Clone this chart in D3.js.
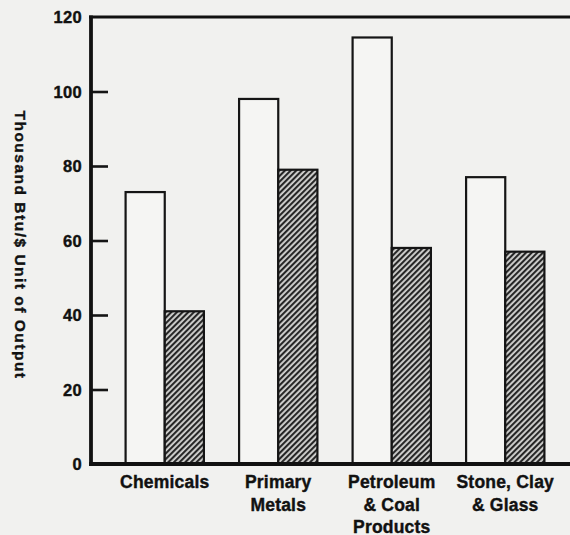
<!DOCTYPE html>
<html>
<head>
<meta charset="utf-8">
<script src="https://cdn.jsdelivr.net/npm/d3@7"></script>
<style>
  html, body { margin: 0; padding: 0; background: #f1f1ef; }
  svg { display: block; }
  text { font-family: "Liberation Sans", Arial, Helvetica, sans-serif; font-weight: bold; fill: #111; }
</style>
</head>
<body>
<div id="chart"></div>
<script>
// ---- data ----
const categories = ["Chemicals", "Primary Metals", "Petroleum & Coal Products", "Stone, Clay & Glass"];
const categoryLines = [["Chemicals"], ["Primary", "Metals"], ["Petroleum", "& Coal", "Products"], ["Stone, Clay", "& Glass"]];
const series = ["open", "hatched"];
const openValues = [73, 98, 114.5, 77];
const hatchedValues = [41, 79, 58, 57];
const yTicks = [0, 20, 40, 60, 80, 100, 120];
const yTitle = "Thousand Btu/$ Unit of Output";

(function () {
const W = 570, H = 535;
const svg = d3.select("#chart").append("svg").attr("width", W).attr("height", H);

svg.append("rect").attr("width", W).attr("height", H).attr("fill", "#f1f1ef");

const defs = svg.append("defs");
const pat = defs.append("pattern")
  .attr("id", "hatch").attr("patternUnits", "userSpaceOnUse")
  .attr("width", 4).attr("height", 4)
  .attr("patternTransform", "rotate(45)");
pat.append("rect").attr("width", 4).attr("height", 4).attr("fill", "#d2d2d0");
pat.append("rect").attr("x", 0).attr("y", 0).attr("width", 2.1).attr("height", 4).attr("fill", "#262626");

const mLeft = 91, mRight = 570, mTop = 17, mBottom = 464;

const y = d3.scaleLinear().domain([0, 120]).range([mBottom, mTop]);
const x0 = d3.scaleBand().domain(categories).range([108, 562]).paddingInner(0.31).paddingOuter(0.155);
const x1 = d3.scaleBand().domain(series).range([0, x0.bandwidth()]).padding(0);

const rows = categories.map((c, i) => ({ cat: c, vals: [
  { s: "open", v: openValues[i] },
  { s: "hatched", v: hatchedValues[i] }
]}));

// bars
const g = svg.append("g");
g.selectAll("g.cat").data(rows).join("g")
  .attr("class", "cat")
  .attr("transform", d => `translate(${x0(d.cat)},0)`)
  .selectAll("rect").data(d => d.vals).join("rect")
  .attr("x", d => x1(d.s))
  .attr("y", d => y(d.v))
  .attr("width", x1.bandwidth())
  .attr("height", d => y(0) - y(d.v))
  .attr("fill", d => d.s === "open" ? "#f5f5f3" : "url(#hatch)")
  .attr("stroke", "#151515")
  .attr("stroke-width", 2.2);

// y axis ticks
const yAxis = d3.axisRight(y).tickValues(yTicks.filter(t => t > 0 && t < 120)).tickSize(17).tickFormat("");
const ya = svg.append("g").attr("transform", `translate(${mLeft},0)`).call(yAxis);
ya.select(".domain").remove();
ya.selectAll(".tick line").attr("stroke", "#151515").attr("stroke-width", 2.6);

// tick labels
svg.append("g").selectAll("text").data(yTicks).join("text")
  .attr("x", 82).attr("y", d => y(d))
  .attr("dy", "0.38em")
  .attr("text-anchor", "end")
  .style("font-size", "16.5px")
  .style("letter-spacing", "0.3px")
  .style("stroke", "#111").style("stroke-width", "0.4px")
  .text(d => d);

// frame lines
svg.append("line").attr("x1", mLeft).attr("x2", mLeft).attr("y1", mTop - 1.5).attr("y2", mBottom + 2)
  .attr("stroke", "#111").attr("stroke-width", 3.8);
svg.append("line").attr("x1", mLeft - 2).attr("x2", mRight).attr("y1", mTop).attr("y2", mTop)
  .attr("stroke", "#111").attr("stroke-width", 3.2);
svg.append("line").attr("x1", mLeft - 2).attr("x2", mRight).attr("y1", mBottom).attr("y2", mBottom)
  .attr("stroke", "#111").attr("stroke-width", 3.8);

// category labels
const cl = svg.append("g").selectAll("text").data(categories).join("text")
  .attr("text-anchor", "middle")
  .style("font-size", "17.5px")
  .style("letter-spacing", "0.2px")
  .style("stroke", "#111").style("stroke-width", "0.4px")
  .attr("transform", d => `translate(${x0(d) + x0.bandwidth() / 2},488)`);
cl.selectAll("tspan").data((d, i) => categoryLines[i]).join("tspan")
  .attr("x", 0).attr("y", (d, j) => j * 22.5)
  .text(d => d);

// y title (reads downward)
svg.append("text")
  .attr("transform", `translate(15,245) rotate(90)`)
  .attr("text-anchor", "middle")
  .style("font-size", "15.5px")
  .style("letter-spacing", "1.5px")
  .style("stroke", "#111").style("stroke-width", "0.4px")
  .text(yTitle);
})();
</script>
</body>
</html>
